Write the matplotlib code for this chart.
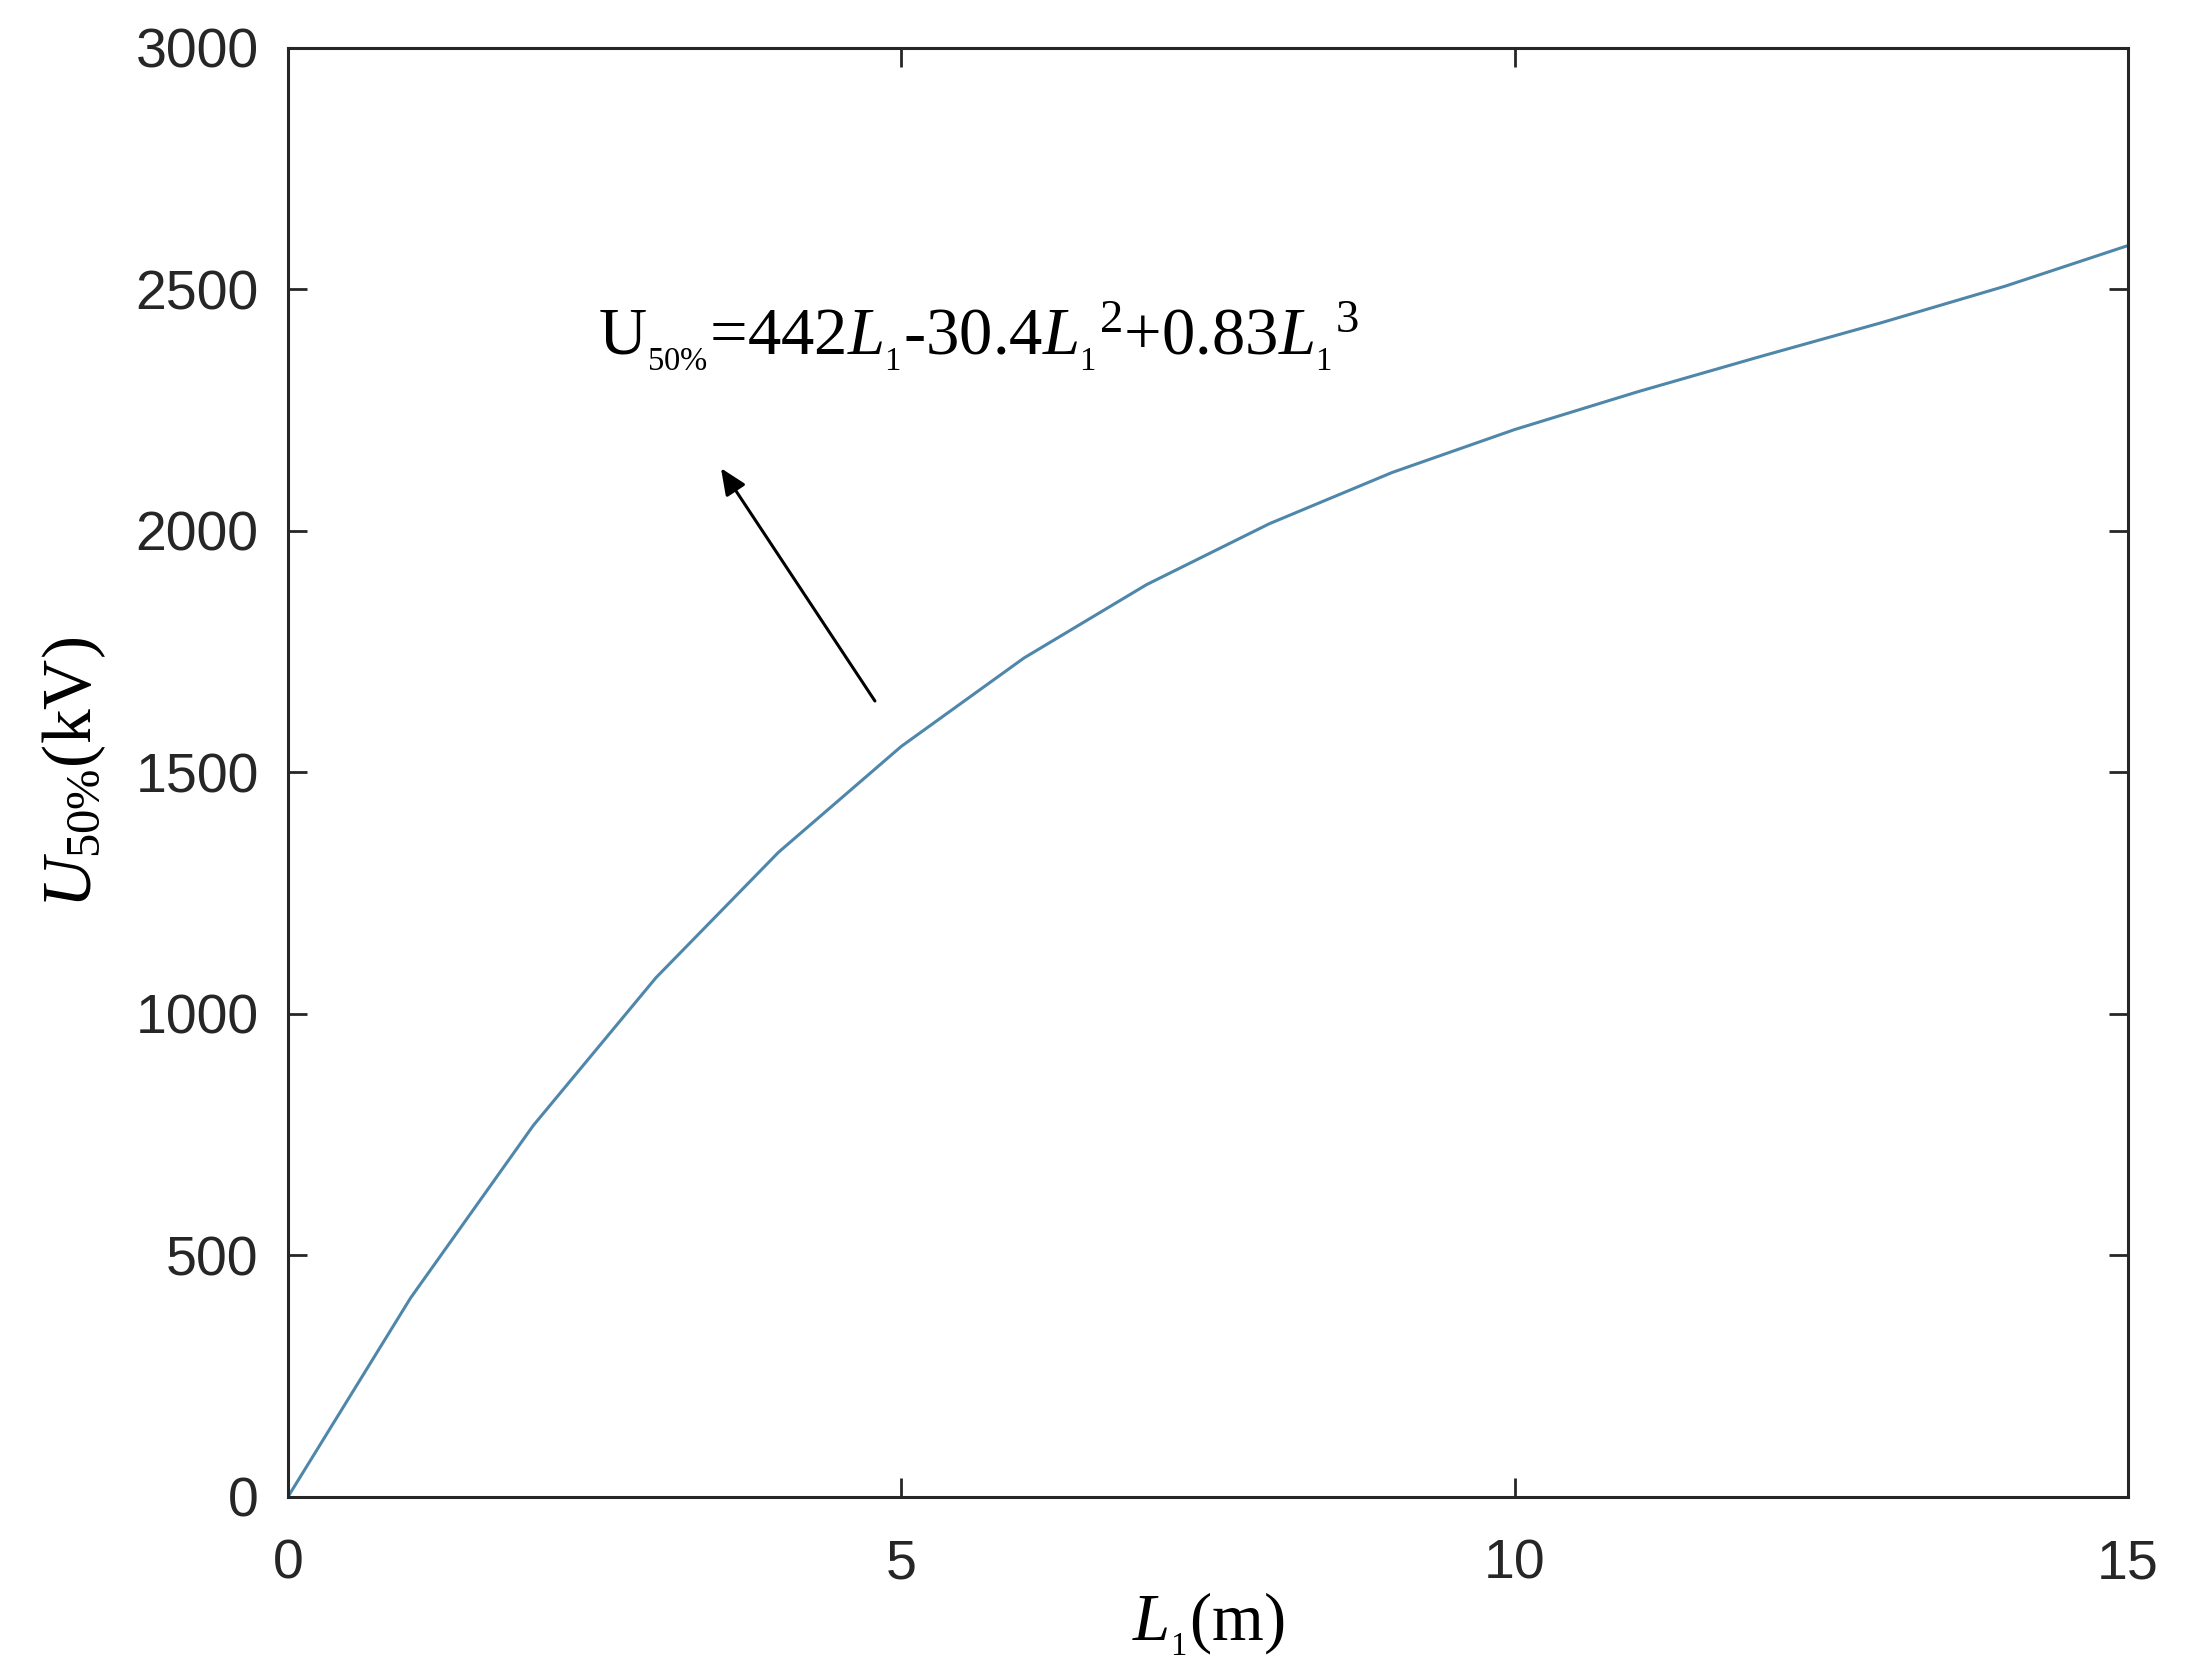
import matplotlib
matplotlib.use("Agg")
import matplotlib.pyplot as plt

# Data
L1 = [0, 1, 2, 3, 4, 5, 6, 7, 8, 9, 10, 11, 12, 13, 14, 15]
U50 = [0, 412, 769, 1075, 1335, 1554, 1737, 1889, 2015, 2121, 2210, 2288, 2361, 2432, 2507, 2591]
xticks = [0, 5, 10, 15]
yticks = [0, 500, 1000, 1500, 2000, 2500, 3000]

plt.rcParams['mathtext.fontset'] = 'custom'
plt.rcParams['mathtext.rm'] = 'Liberation Serif'
plt.rcParams['mathtext.it'] = 'Liberation Serif:italic'
plt.rcParams['mathtext.bf'] = 'Liberation Serif:bold'

fig = plt.figure(figsize=(21.86, 16.78), dpi=100)
ax = fig.add_axes([0.1317, 0.1079, 0.8418, 0.8635])

ax.plot(L1, U50, color='#4F87AB', linewidth=2.2)

ax.set_xlim(0, 15)
ax.set_ylim(0, 3000)
ax.set_xticks(xticks)
ax.set_yticks(yticks)

for s in ax.spines.values():
    s.set_color('#262626')
    s.set_linewidth(2.2)

ax.tick_params(axis='both', which='both', direction='in', length=14, width=2,
               color='#262626', labelcolor='#262626', labelsize=40,
               top=True, right=True)
ax.tick_params(axis='x', pad=30)
ax.tick_params(axis='y', pad=21)
for lab in ax.get_xticklabels() + ax.get_yticklabels():
    lab.set_fontfamily('Liberation Sans')

ax.set_xlabel(r'$L_{{}_{\mathregular{1}}}$(m)', fontfamily='Liberation Serif', fontsize=48, labelpad=0)
ax.set_ylabel(r'$U_{\mathregular{50\%}}$(kV)', fontfamily='Liberation Serif', fontsize=50, labelpad=20)

ax.annotate('', xy=(3.53, 2130), xytext=(4.785, 1648),
            arrowprops=dict(arrowstyle='-|>,head_length=1.6,head_width=0.7',
                            color='black', lw=2.2, shrinkA=0, shrinkB=0))

ax.text(2.53, 2365,
        r'U$_{{}_{\mathregular{50\%}}}$=442$L_{{}_{\mathregular{1}}}$-30.4$L_{{}_{\mathregular{1}}}{}^{\mathregular{2}}$+0.83$L_{{}_{\mathregular{1}}}{}^{\mathregular{3}}$',
        fontfamily='Liberation Serif', fontsize=48, color='black', va='baseline', ha='left')

fig.savefig('out.png', dpi=100, facecolor='white')
